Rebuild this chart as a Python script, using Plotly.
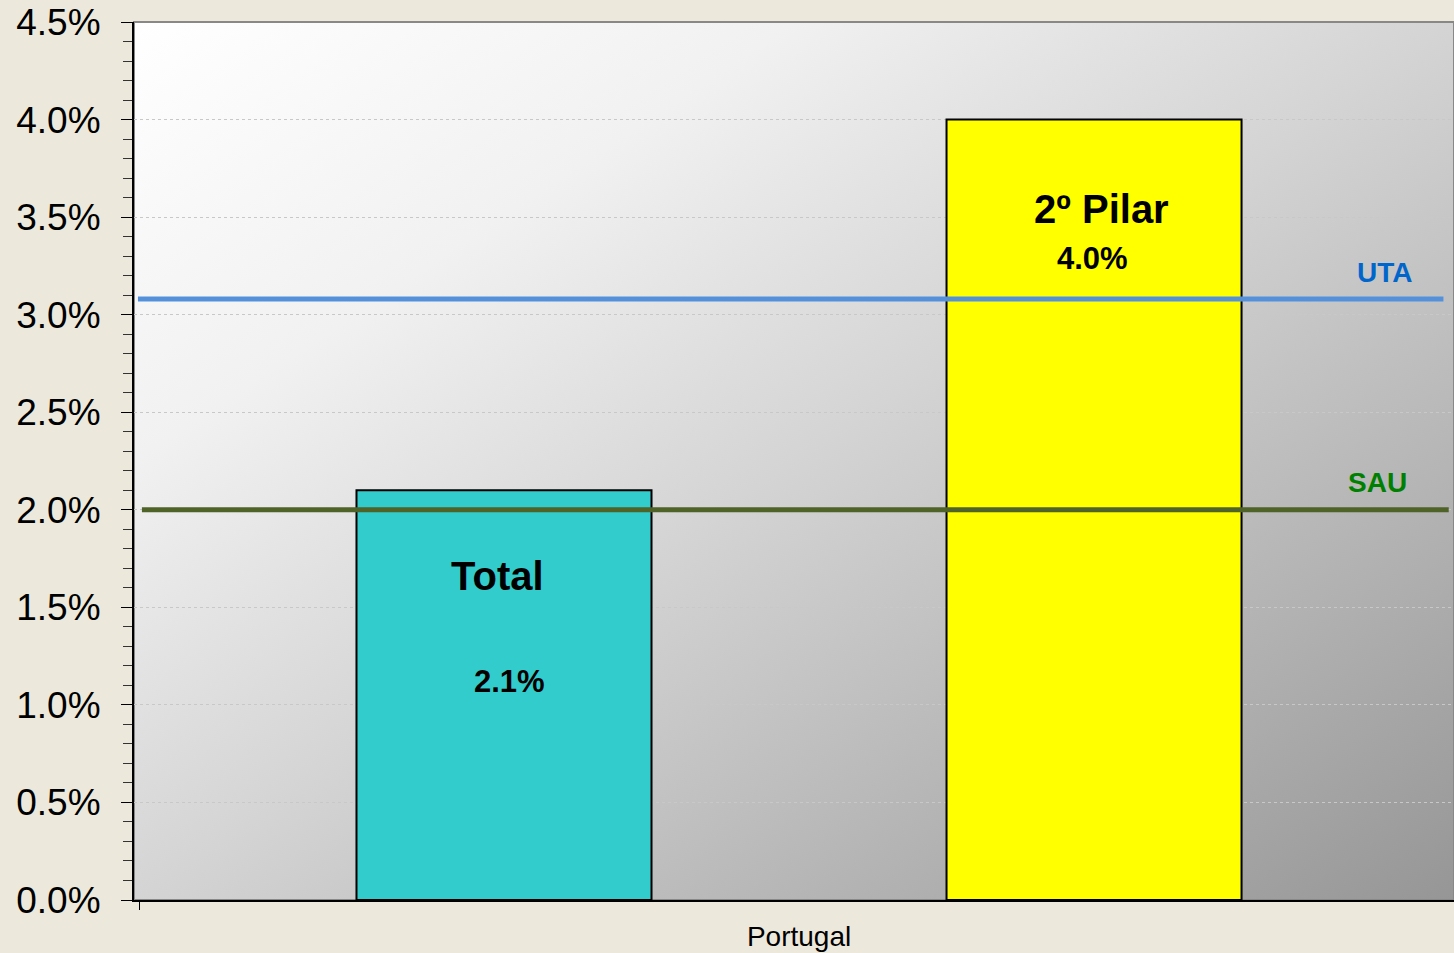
import base64
import plotly.graph_objects as go

# ---- data ----
categories = ["Portugal"]
series_names = ["Total", "2º Pilar"]
series_values = [0.021, 0.040]
series_labels = ["2.1%", "4.0%"]
bar_colors = ["#33CCCC", "#FFFF00"]
ref_names = ["UTA", "SAU"]
ref_values = [0.0308, 0.0200]
ref_line_colors = ["#5591DB", "#4F6228"]
ref_text_colors = ["#0066CC", "#008000"]
y_tick_vals = [0, 0.005, 0.01, 0.015, 0.02, 0.025, 0.03, 0.035, 0.04, 0.045]

FONT = "Liberation Sans, Arial, sans-serif"

fig = go.Figure()
for name, val, col in zip(series_names, series_values, bar_colors):
    fig.add_trace(go.Bar(
        x=categories, y=[val], name=name,
        marker=dict(color=col, line=dict(color="black", width=2)),
        hoverinfo="skip",
    ))

# gradient background as SVG image
svg = (
    '<svg xmlns="http://www.w3.org/2000/svg" width="1320" height="878" viewBox="0 0 1320 878" preserveAspectRatio="none">'
    '<defs><linearGradient id="g" x1="0" y1="0" x2="1" y2="1">'
    '<stop offset="0" stop-color="#FFFFFF"/>'
    '<stop offset="0.25" stop-color="#F1F1F1"/>'
    '<stop offset="0.5" stop-color="#D4D4D4"/>'
    '<stop offset="1" stop-color="#969696"/>'
    '</linearGradient></defs>'
    '<rect width="1320" height="878" fill="url(#g)"/></svg>'
)
uri = "data:image/svg+xml;base64," + base64.b64encode(svg.encode()).decode()

shapes = []
annotations = []
# reference lines
line_spans = [(0.003, 0.992), (0.006, 0.996)]
label_x = [0.947, 0.942]
for nm, v, lc, tc, (a, b), lx in zip(ref_names, ref_values, ref_line_colors, ref_text_colors, line_spans, label_x):
    shapes.append(dict(type="line", xref="paper", yref="y", x0=a, x1=b, y0=v, y1=v,
                       line=dict(color=lc, width=5), layer="above"))
    annotations.append(dict(xref="paper", yref="y", x=lx, y=v, yshift=27, text="<b>%s</b>" % nm,
                            xanchor="center", showarrow=False,
                            font=dict(family=FONT, size=28, color=tc)))

# bar labels
bar_name_pos = [(0.2757, 0.0166), (0.7326, 0.0354)]
bar_val_pos = [(0.2848, 0.0112), (0.7258, 0.0329)]
for nm, lab, (nx, ny), (vx, vy) in zip(series_names, series_labels, bar_name_pos, bar_val_pos):
    annotations.append(dict(xref="paper", yref="y", x=nx, y=ny, text="<b>%s</b>" % nm,
                            xanchor="center", showarrow=False,
                            font=dict(family=FONT, size=40, color="black")))
    annotations.append(dict(xref="paper", yref="y", x=vx, y=vy, text="<b>%s</b>" % lab,
                            xanchor="center", showarrow=False,
                            font=dict(family=FONT, size=31, color="black")))

# plot border (top/right gray)
shapes.append(dict(type="rect", xref="paper", yref="paper", x0=0, x1=1, y0=0, y1=1,
                   line=dict(color="#888888", width=2), layer="below"))

fig.update_layout(
    width=1454, height=953,
    margin=dict(l=134, r=0, t=22, b=53),
    paper_bgcolor="#ECE9DC",
    plot_bgcolor="#FFFFFF",
    barmode="group", bargap=0.106, bargroupgap=0.5,
    showlegend=False,
    images=[dict(source=uri, xref="paper", yref="paper", x=0, y=1, sizex=1, sizey=1,
                 xanchor="left", yanchor="top", sizing="stretch", layer="below")],
    shapes=shapes,
    annotations=annotations,
    font=dict(family=FONT, color="black"),
)
fig.update_xaxes(
    range=[-0.5038, 0.4962],
    showline=True, linecolor="black", linewidth=2,
    ticks="outside", tickson="boundaries", ticklen=8, tickcolor="black",
    ticklabelstandoff=10,
    tickfont=dict(family=FONT, size=28, color="black"),
    showgrid=False, zeroline=False,
)
fig.update_yaxes(
    range=[0, 0.045], tickvals=y_tick_vals, tickformat=".1%",
    showline=True, linecolor="black", linewidth=2,
    ticks="outside", ticklen=11, tickcolor="black", ticklabelstandoff=13,
    minor=dict(ticks="outside", dtick=0.001, ticklen=9, tickcolor="#333333", showgrid=False),
    showgrid=True, gridcolor="#C8C8C8", griddash="dot", gridwidth=1,
    zeroline=False,
    tickfont=dict(family=FONT, size=37, color="black"),
)

fig.write_html(
    "out.html",
    config={"displayModeBar": False},
    post_script="document.body.style.margin='0px';document.body.style.background='#ECE9DC';",
)
